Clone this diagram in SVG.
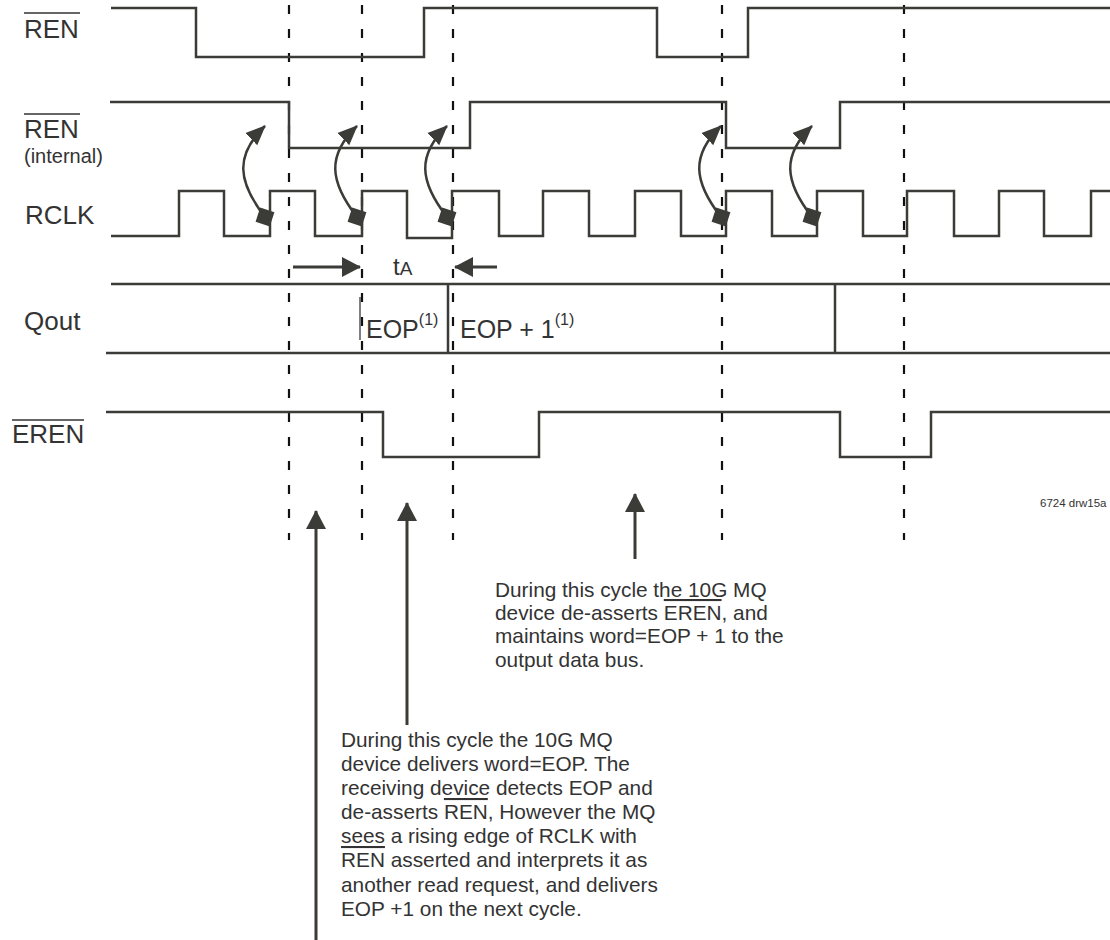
<svg xmlns="http://www.w3.org/2000/svg" width="1110" height="940" viewBox="0 0 1110 940">
<style>
.w{fill:none;stroke:#3b3b37;stroke-width:2.5;stroke-linejoin:miter}
.d{fill:none;stroke:#111;stroke-width:2.2;stroke-dasharray:9 15}
.t{font-family:"Liberation Sans",Arial,Helvetica,sans-serif;fill:#333}
.lab{font-size:26px}
.body{font-size:20.8px}
.ol{stroke:#333;stroke-width:1.6}
.arr{fill:none;stroke:#3b3b37;stroke-width:3}
.crv{fill:none;stroke:#3b3b37;stroke-width:2.5}
</style>
<defs>
<marker id="head" markerUnits="userSpaceOnUse" markerWidth="22" markerHeight="22" refX="18" refY="10" orient="auto" viewBox="0 0 22 20">
<path d="M0,0 L19,10 L0,20 Z" fill="#3b3b37"/>
</marker>
<marker id="chead" markerUnits="userSpaceOnUse" markerWidth="23" markerHeight="20" refX="19" refY="8.5" orient="auto" viewBox="0 0 23 17">
<path d="M0,0 L20,8.5 L0,17 Z" fill="#3b3b37"/>
</marker>
<marker id="sq" markerUnits="userSpaceOnUse" markerWidth="16" markerHeight="16" refX="7.5" refY="7.5" orient="18" viewBox="0 0 15 15">
<rect x="0.5" y="0.5" width="14" height="14" fill="#3b3b37"/>
</marker>
</defs>

<g id="labels">
<text class="t lab" x="24" y="38">REN</text>
<line class="ol" x1="24" y1="13" x2="80" y2="13"/>
<text class="t lab" x="24" y="138">REN</text>
<line class="ol" x1="24" y1="114" x2="80" y2="114"/>
<text class="t" style="font-size:20px" x="24" y="163">(internal)</text>
<text class="t lab" x="25" y="224">RCLK</text>
<text class="t lab" x="24" y="330">Qout</text>
<text class="t lab" x="12" y="443">EREN</text>
<line class="ol" x1="12" y1="420" x2="84" y2="420"/>
</g>

<g id="dashed-lines">
<line class="d" x1="289" y1="5" x2="289" y2="540"/>
<line class="d" x1="362" y1="5" x2="362" y2="540"/>
<line class="d" x1="453" y1="5" x2="453" y2="540"/>
<line class="d" x1="722" y1="5" x2="722" y2="540"/>
<line class="d" x1="904" y1="5" x2="904" y2="540"/>
</g>

<g id="ren">
<path class="w" d="M111,8 H196 V57 H424 V8 H657 V57 H748 V8 H1110"/>
</g>
<g id="ren-internal">
<path class="w" d="M110,102 H289 V148 H470 V102 H726 V148 H840 V102 H1110"/>
</g>
<g id="rclk">
<path class="w" d="M111,236 H179 V191 H224 V236 H270 V191 H315 V236 H362 V191 H407 V238 H452 V191 H499 V236 H543 V191 H589 V236 H635 V191 H681 V236 H726 V191 H772 V236 H817 V191 H863 V236 H907 V191 H954 V236 H999 V191 H1044 V236 H1091 V191 H1110"/>
</g>
<g id="qout">
<path class="w" d="M111,284 H1110 M106,353 H1110 M448,284 V353 M835,284 V353"/>
<line x1="360" y1="297" x2="360" y2="340" stroke="#555" stroke-width="1.5"/>
<text class="t" style="font-size:25px" x="366" y="338">EOP<tspan dy="-13" style="font-size:16px">(1)</tspan></text>
<text class="t" style="font-size:25px" x="460" y="338">EOP + 1<tspan dy="-13" style="font-size:16px">(1)</tspan></text>
</g>
<g id="eren">
<path class="w" d="M106,412 H383 V457 H539 V412 H840 V457 H931 V412 H1110"/>
</g>

<g id="connectors">
<path class="crv" marker-start="url(#sq)" marker-end="url(#chead)" d="M265,217 C237,181 235,155 265,126"/>
<path class="crv" marker-start="url(#sq)" marker-end="url(#chead)" d="M357,217 C329,181 327,155 357,126"/>
<path class="crv" marker-start="url(#sq)" marker-end="url(#chead)" d="M447,217 C419,181 417,155 447,126"/>
<path class="crv" marker-start="url(#sq)" marker-end="url(#chead)" d="M721,217 C693,181 691,155 721,126"/>
<path class="crv" marker-start="url(#sq)" marker-end="url(#chead)" d="M812,217 C784,181 782,155 812,126"/>
<line class="arr" x1="293" y1="267" x2="360" y2="267" marker-end="url(#head)"/>
<line class="arr" x1="497" y1="267" x2="455" y2="267" marker-end="url(#head)"/>
<line class="arr" x1="316" y1="940" x2="316" y2="511" marker-end="url(#head)"/>
<line class="arr" x1="407" y1="725" x2="407" y2="503" marker-end="url(#head)"/>
<line class="arr" x1="635" y1="559" x2="635" y2="494" marker-end="url(#head)"/>
</g>

<g id="ta-label">
<text class="t" x="393" y="275"><tspan style="font-size:24px">t</tspan><tspan style="font-size:19px">A</tspan></text>
</g>

<g id="note-right">
<text class="t body">
<tspan x="495" y="597">During this cycle the 10G MQ</tspan>
<tspan x="495" y="620">device de-asserts <tspan text-decoration="overline">EREN</tspan>, and</tspan>
<tspan x="495" y="643">maintains word=EOP + 1 to the</tspan>
<tspan x="495" y="667">output data bus.</tspan>
</text>
</g>

<g id="note-left">
<text class="t body">
<tspan x="341" y="747">During this cycle the 10G MQ</tspan>
<tspan x="341" y="771">device delivers word=EOP. The</tspan>
<tspan x="341" y="795">receiving device detects EOP and</tspan>
<tspan x="341" y="819">de-asserts <tspan text-decoration="overline">REN</tspan>, However the MQ</tspan>
<tspan x="341" y="843">sees a rising edge of RCLK with</tspan>
<tspan x="341" y="867"><tspan text-decoration="overline">REN</tspan> asserted and interprets it as</tspan>
<tspan x="341" y="892">another read request, and delivers</tspan>
<tspan x="341" y="916">EOP +1 on the next cycle.</tspan>
</text>
</g>

<text class="t" style="font-size:11.5px" x="1040" y="507">6724 drw15a</text>
</svg>
